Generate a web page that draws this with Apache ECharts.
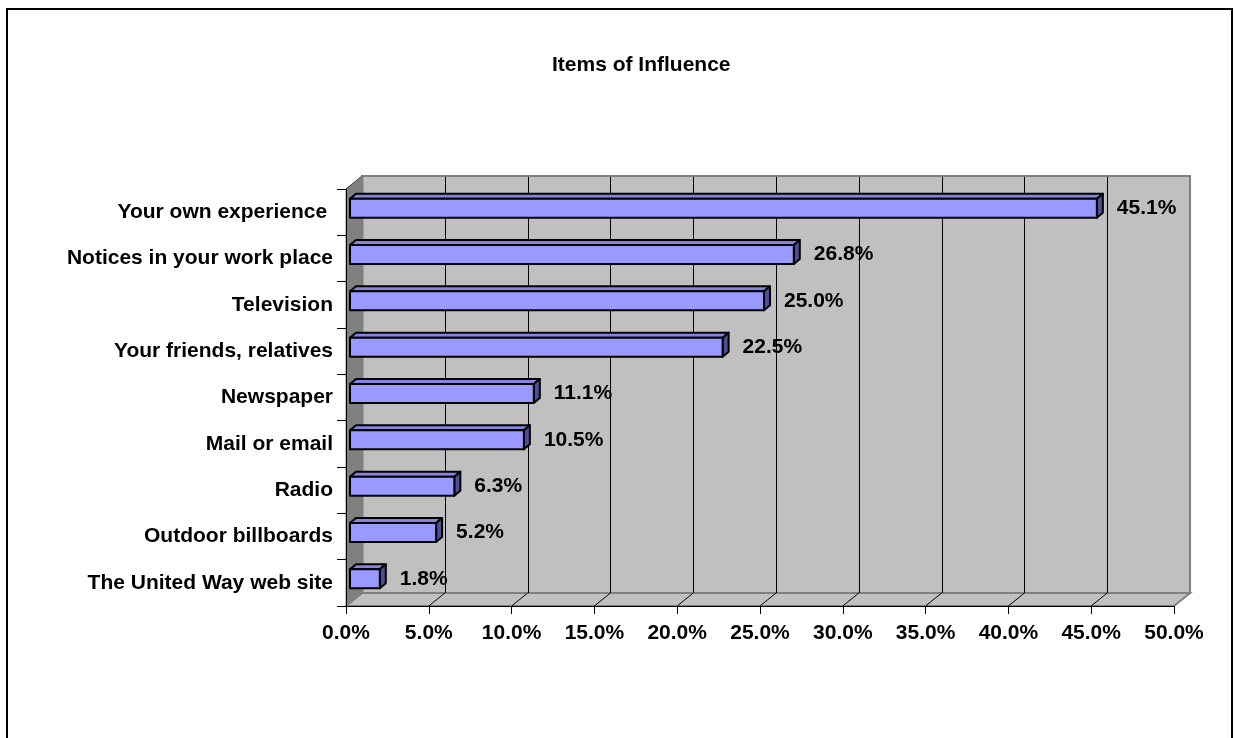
<!DOCTYPE html>
<html>
<head>
<meta charset="utf-8">
<script src="https://cdn.jsdelivr.net/npm/echarts@6/dist/echarts.min.js"></script>
<style>
  html, body { margin: 0; padding: 0; background: #fff; }
  #chart { position: absolute; left: 0; top: 0; width: 1236px; height: 738px; }
  #frame { position: absolute; left: 6px; top: 8px; width: 1227px; height: 800px;
           box-sizing: border-box; border: 2px solid #000; pointer-events: none; }
</style>
</head>
<body>
<div id="chart"></div>
<div id="frame"></div>
<script>
// ---- data ----
const chartTitle = 'Items of Influence';
const categories = [
  'Your own experience ',
  'Notices in your work place',
  'Television',
  'Your friends, relatives',
  'Newspaper',
  'Mail or email',
  'Radio',
  'Outdoor billboards',
  'The United Way web site'
];
const values = [45.1, 26.8, 25.0, 22.5, 11.1, 10.5, 6.3, 5.2, 1.8];
const axisMin = 0;
const axisMax = 50;
const axisStep = 5;

// ---- style constants ----
const FONT = '"Liberation Sans", Arial, Helvetica, sans-serif';
const FS = 21;
const DEPTH_X = 16, DEPTH_Y = -13;       // wall depth offset
const BAR_DX = 4, BAR_DY = -4;           // bar position in depth
const BAR_SX = 6, BAR_SY = -5;           // bar thickness in depth
const BAR_H = 19;

const chart = echarts.init(document.getElementById('chart'), null, { renderer: 'canvas' });

function crisp(v) { return Math.round(v) + 0.5; }

function wallsRender(params, api) {
  const cs = params.coordSys;
  const x0 = cs.x, y0 = cs.y, x1 = cs.x + cs.width, y1 = cs.y + cs.height;
  const children = [];
  // back wall
  children.push({
    type: 'rect',
    shape: { x: x0 + DEPTH_X, y: y0 + DEPTH_Y, width: cs.width, height: cs.height },
    style: { fill: '#C0C0C0', stroke: '#808080', lineWidth: 2 }
  });
  // floor
  children.push({
    type: 'polygon',
    shape: { points: [[x0, y1], [x0 + DEPTH_X, y1 + DEPTH_Y], [x1 + DEPTH_X, y1 + DEPTH_Y], [x1, y1]] },
    style: { fill: '#C0C0C0', stroke: '#808080', lineWidth: 2 }
  });
  // grid lines on back wall and floor
  for (let v = axisMin + axisStep; v < axisMax; v += axisStep) {
    const px = api.coord([v, 0])[0];
    const bx = crisp(px + DEPTH_X);
    children.push({
      type: 'line',
      shape: { x1: bx, y1: y0 + DEPTH_Y + 1, x2: bx, y2: y1 + DEPTH_Y },
      style: { stroke: '#000', lineWidth: 1 }
    });
    children.push({
      type: 'line',
      shape: { x1: px, y1: y1, x2: px + DEPTH_X, y2: y1 + DEPTH_Y },
      style: { stroke: '#000', lineWidth: 1 }
    });
  }
  // left wall
  children.push({
    type: 'polygon',
    shape: { points: [[x0, y0], [x0 + DEPTH_X + 1, y0 + DEPTH_Y], [x0 + DEPTH_X + 1, y1 + DEPTH_Y], [x0, y1]] },
    style: { fill: '#808080', stroke: '#808080', lineWidth: 1 }
  });
  children.push({
    type: 'line',
    shape: { x1: x0, y1: y0, x2: x0 + DEPTH_X, y2: y0 + DEPTH_Y },
    style: { stroke: '#404040', lineWidth: 1 }
  });
  return { type: 'group', children: children };
}

function barRender(params, api) {
  const v = api.value(0);
  const c = api.value(1);
  const pA = api.coord([axisMin, c]);
  const pB = api.coord([v, c]);
  const xa = pA[0] + BAR_DX, xb = pB[0] + BAR_DX;
  const yc = pA[1] + BAR_DY;
  const yt = yc - BAR_H / 2, yb = yc + BAR_H / 2;
  const stroke = { stroke: '#000', lineWidth: 2, lineJoin: 'round' };
  return {
    type: 'group',
    children: [
      { type: 'polygon',
        shape: { points: [[xa, yt], [xa + BAR_SX, yt + BAR_SY], [xb + BAR_SX, yt + BAR_SY], [xb, yt]] },
        style: Object.assign({ fill: '#8585E0' }, stroke) },
      { type: 'polygon',
        shape: { points: [[xb, yt], [xb + BAR_SX, yt + BAR_SY], [xb + BAR_SX, yb + BAR_SY], [xb, yb]] },
        style: Object.assign({ fill: '#4D4D99' }, stroke) },
      { type: 'rect',
        shape: { x: xa, y: yt, width: xb - xa, height: BAR_H },
        style: Object.assign({ fill: '#9999FF' }, stroke) },
      { type: 'text',
        style: { text: v.toFixed(1) + '%', x: xb + BAR_SX + 14, y: yc,
                 align: 'left', verticalAlign: 'middle',
                 font: 'bold ' + FS + 'px ' + FONT, fill: '#000' } }
    ]
  };
}

const option = {
  animation: false,
  backgroundColor: '#fff',
  title: {
    text: chartTitle,
    left: 547,
    top: 50,
    textStyle: { fontFamily: FONT, fontSize: FS, fontWeight: 'bold', color: '#000' }
  },
  grid: { left: 346, right: 62, top: 189, bottom: 132, containLabel: false },
  xAxis: {
    type: 'value',
    min: axisMin, max: axisMax, interval: axisStep,
    z: 3,
    axisLine: { show: true, lineStyle: { color: '#000', width: 1 } },
    axisTick: { show: true, length: 8, lineStyle: { color: '#000' } },
    splitLine: { show: false },
    axisLabel: {
      margin: 17, color: '#000', fontFamily: FONT, fontSize: FS, fontWeight: 'bold',
      formatter: function (v) { return v.toFixed(1) + '%'; }
    }
  },
  yAxis: {
    type: 'category',
    data: categories,
    inverse: true,
    z: 3,
    axisLine: { show: true, lineStyle: { color: '#000', width: 1 } },
    axisTick: { show: true, length: 9, lineStyle: { color: '#000' } },
    splitLine: { show: false },
    axisLabel: { margin: 13, color: '#000', fontFamily: FONT, fontSize: FS, fontWeight: 'bold' }
  },
  series: [
    {
      type: 'custom',
      name: 'walls',
      z: 1,
      silent: true,
      clip: false,
      renderItem: wallsRender,
      encode: { x: 0, y: 1 },
      data: [[0, 0]]
    },
    {
      type: 'custom',
      name: 'Items of Influence',
      z: 5,
      clip: false,
      renderItem: barRender,
      encode: { x: 0, y: 1 },
      data: values.map(function (v, i) { return [v, i]; })
    }
  ]
};
chart.setOption(option);
</script>
</body>
</html>
